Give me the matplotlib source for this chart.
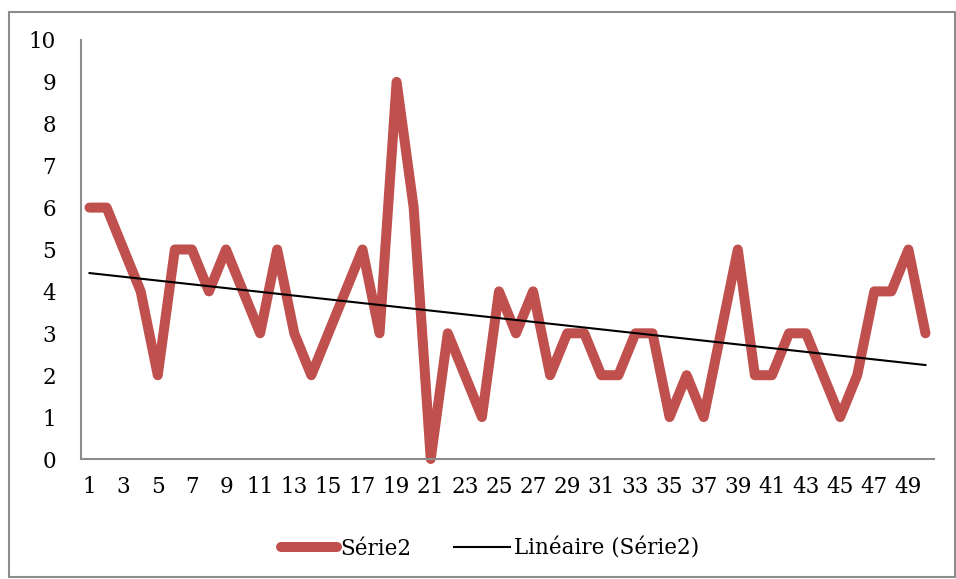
import numpy as np
import matplotlib
matplotlib.use("Agg")
import matplotlib.pyplot as plt
from matplotlib.lines import Line2D
from matplotlib.patches import Rectangle

# series values, one per observation 1..50
x_vals = list(range(1, 51))
serie2 = [6, 6, 5, 4, 2, 5, 5, 4, 5, 4,
          3, 5, 3, 2, 3, 4, 5, 3, 9, 6,
          0, 3, 2, 1, 4, 3, 4, 2, 3, 3,
          2, 2, 3, 3, 1, 2, 1, 3, 5, 2,
          2, 3, 3, 2, 1, 2, 4, 4, 5, 3]
x_ticks = list(range(1, 50, 2))
y_ticks = list(range(0, 11))
series_label = "Série2"
trend_label = "Linéaire (Série2)"

plt.rcParams['font.family'] = ['DejaVu Serif']

W, H = 956, 579
fig = plt.figure(figsize=(W / 100, H / 100), dpi=100)
ax = fig.add_axes([81 / W, (H - 459) / H, (934 - 81) / W, (459 - 40) / H])

red = "#C0504D"
ax.plot(x_vals, serie2, color=red, lw=7.2, solid_joinstyle="round",
        solid_capstyle="round", label=series_label, clip_on=False)

# linear trend line (least squares)
coef = np.polyfit(x_vals, serie2, 1)
xs = np.array([x_vals[0], x_vals[-1]])
ax.plot(xs, np.polyval(coef, xs), color="black", lw=1.5, label=trend_label)

ax.set_xlim(0.5, 50.5)
ax.set_ylim(0, 10)
ax.set_xticks(x_ticks)
ax.set_yticks(y_ticks)
ax.tick_params(length=0, labelsize=15.5)
ax.tick_params(axis="y", pad=18)
ax.tick_params(axis="x", pad=12)
for s in ["top", "right"]:
    ax.spines[s].set_visible(False)
for s in ["left", "bottom"]:
    ax.spines[s].set_color("#8c8c8c")
    ax.spines[s].set_linewidth(1.5)

handles = [Line2D([], [], color=red, lw=7.2, solid_capstyle="round"),
           Line2D([], [], color="black", lw=1.5)]
fig.legend(handles, [series_label, trend_label], loc="center",
           bbox_to_anchor=(490 / W, (H - 549) / H), ncol=2, frameon=False,
           fontsize=15.5, handlelength=2.6, handletextpad=0.15, columnspacing=2.0)

# outer chart frame
fig.patches.append(Rectangle((9 / W, 2 / H), (W - 10) / W, (H - 14) / H,
                             transform=fig.transFigure, fill=False,
                             edgecolor="#8c8c8c", lw=1.5))

fig.savefig("out.png", dpi=100)
